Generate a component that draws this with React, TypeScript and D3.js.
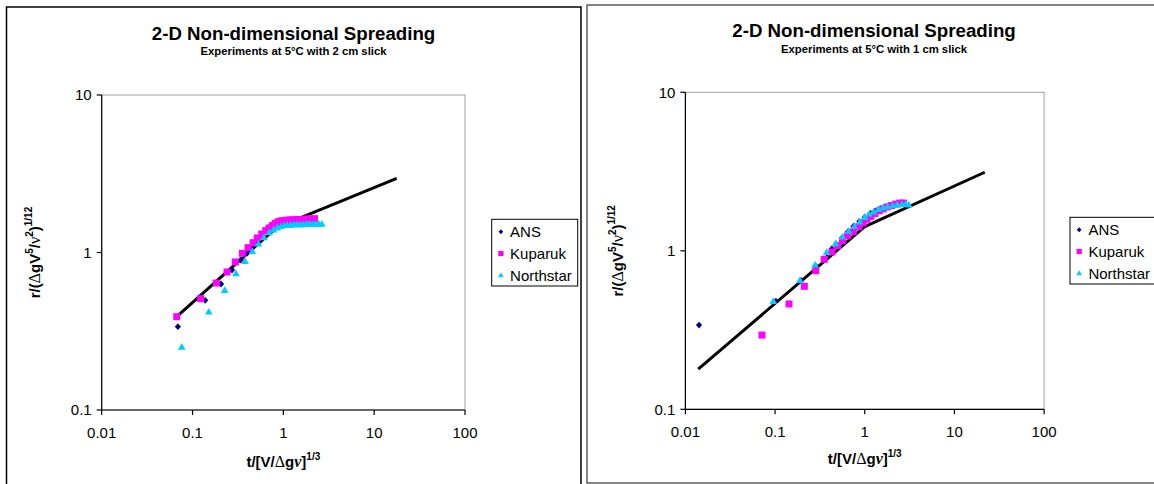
import React from "react";
import * as d3 from "d3";

const FONT = "'Liberation Sans', Arial, Helvetica, sans-serif";
const SERIF = "'Liberation Serif', 'Times New Roman', serif";

const seriesNames = ["ANS", "Kuparuk", "Northstar"];
const seriesColors = ["#000080", "#FF00FF", "#00CCFF"];
const seriesShapes = ["diamond", "square", "triangle"];

const xTickValues = [0.01, 0.1, 1, 10, 100];
const xTickLabels = ["0.01", "0.1", "1", "10", "100"];
const yTickValues = [0.1, 1, 10];
const yTickLabels = ["0.1", "1", "10"];

const chartTitle = "2-D Non-dimensional Spreading";
const leftSubtitle = "Experiments at 5°C with 2 cm slick";
const rightSubtitle = "Experiments at 5°C with 1 cm slick";

// ---- Left chart (2 cm slick) ----
const leftAnsX = [0.069, 0.138, 0.206, 0.272, 0.34, 0.40, 0.46, 0.52, 0.58, 0.65, 0.70, 0.75, 0.80, 0.85];
const leftAnsY = [0.338, 0.497, 0.631, 0.774, 0.896, 0.99, 1.08, 1.17, 1.27, 1.40, 1.45, 1.50, 1.53, 1.56];
const leftKupX = [0.067, 0.123, 0.183, 0.24, 0.296, 0.354, 0.409, 0.464, 0.517, 0.578, 0.64, 0.70, 0.76, 0.82, 0.88, 0.95, 1.02, 1.1, 1.18, 1.26, 1.35, 1.45, 1.55, 1.66, 1.78, 1.9, 2.05, 2.2];
const leftKupY = [0.391, 0.509, 0.64, 0.752, 0.871, 0.988, 1.073, 1.154, 1.236, 1.31, 1.376, 1.43, 1.48, 1.53, 1.57, 1.59, 1.6, 1.6, 1.61, 1.61, 1.61, 1.62, 1.62, 1.62, 1.63, 1.63, 1.63, 1.64];
const leftNorX = [0.076, 0.151, 0.226, 0.301, 0.379, 0.456, 0.531, 0.612, 0.70, 0.78, 0.86, 0.94, 1.02, 1.1, 1.2, 1.3, 1.4, 1.52, 1.64, 1.78, 1.92, 2.08, 2.25, 2.45, 2.65];
const leftNorY = [0.252, 0.421, 0.578, 0.738, 0.883, 1.022, 1.14, 1.248, 1.343, 1.40, 1.44, 1.47, 1.49, 1.5, 1.5, 1.51, 1.51, 1.51, 1.51, 1.52, 1.52, 1.52, 1.52, 1.52, 1.52];
const leftLineX = [0.068, 0.84, 17.7];
const leftLineY = [0.395, 1.44, 2.96];

// ---- Right chart (1 cm slick) ----
const rightAnsX = [0.0142, 0.102, 0.195, 0.285, 0.38, 0.43, 0.48, 0.56, 0.65, 0.75, 0.87, 1.0, 1.15, 1.3, 1.5, 1.7, 1.95, 2.2, 2.5];
const rightAnsY = [0.34, 0.482, 0.65, 0.80, 0.96, 1.03, 1.10, 1.21, 1.32, 1.43, 1.53, 1.63, 1.72, 1.78, 1.84, 1.89, 1.92, 1.95, 1.97];
const rightKupX = [0.0714, 0.143, 0.212, 0.284, 0.354, 0.431, 0.499, 0.565, 0.64, 0.745, 0.86, 0.96, 1.06, 1.17, 1.3, 1.45, 1.6, 1.78, 1.98, 2.2, 2.45, 2.7];
const rightKupY = [0.294, 0.462, 0.597, 0.749, 0.884, 0.983, 1.077, 1.158, 1.24, 1.32, 1.42, 1.5, 1.58, 1.65, 1.72, 1.79, 1.84, 1.89, 1.93, 1.97, 2.0, 2.0];
const rightNorX = [0.0955, 0.1895, 0.279, 0.376, 0.474, 0.565, 0.66, 0.764, 0.88, 1.0, 1.12, 1.26, 1.42, 1.6, 1.8, 2.05, 2.3, 2.6, 2.85, 3.1];
const rightNorY = [0.482, 0.654, 0.817, 0.983, 1.115, 1.227, 1.334, 1.43, 1.53, 1.63, 1.71, 1.77, 1.83, 1.88, 1.91, 1.94, 1.96, 1.97, 1.97, 1.96];
const rightLineX = [0.0139, 1.0, 21.8];
const rightLineY = [0.179, 1.42, 3.13];

const zip = (xs: number[], ys: number[]) => xs.map((v, i) => [v, ys[i]] as [number, number]);

function markerPath(shape: string, cx: number, cy: number, s: number) {
  if (shape === "diamond") {
    const w = 3.1 * s, h = 3.4 * s;
    return `M${cx},${cy - h}L${cx + w},${cy}L${cx},${cy + h}L${cx - w},${cy}Z`;
  }
  if (shape === "square") {
    const h = 3.5 * s;
    return `M${cx - h},${cy - h}H${cx + h}V${cy + h}H${cx - h}Z`;
  }
  const w = 3.8 * s;
  return `M${cx},${cy - 3.8 * s}L${cx + w},${cy + 2.9 * s}L${cx - w},${cy + 2.9 * s}Z`;
}

type Cfg = {
  plot: { x0: number; x1: number; y0: number; y1: number };
  frame: { x: number; y: number; w: number; h: number; stroke: string; sw: number };
  titleX: number; titleY: number; subY: number; subtitle: string;
  yLabelX: number; xLabelY: number;
  legend: { x: number; y: number; w: number; h: number };
  series: [number, number][][];
  line: [number, number][];
};

function Chart({ cfg }: { cfg: Cfg }) {
  const { plot } = cfg;
  const x = d3.scaleLog().domain([0.01, 100]).range([plot.x0, plot.x1]);
  const y = d3.scaleLog().domain([0.1, 10]).range([plot.y1, plot.y0]);
  const lineGen = d3.line<[number, number]>().x((d) => x(d[0])).y((d) => y(d[1]));
  const cxPlot = (plot.x0 + plot.x1) / 2;
  const cyPlot = (plot.y0 + plot.y1) / 2;
  const lg = cfg.legend;
  const rowOff = [12.5, 34.2, 55.8];

  return (
    <g>
      <rect x={cfg.frame.x} y={cfg.frame.y} width={cfg.frame.w} height={cfg.frame.h} fill="#fff" stroke={cfg.frame.stroke} strokeWidth={cfg.frame.sw} />
      <text x={cfg.titleX} y={cfg.titleY} textAnchor="middle" fontFamily={FONT} fontWeight="bold" fontSize={18.7}>{chartTitle}</text>
      <text x={cfg.titleX} y={cfg.subY} textAnchor="middle" fontFamily={FONT} fontWeight="bold" fontSize={11.3}>{cfg.subtitle}</text>
      {/* plot area border */}
      <rect x={plot.x0} y={plot.y0} width={plot.x1 - plot.x0} height={plot.y1 - plot.y0} fill="#fff" stroke="#a0a0a0" strokeWidth={1} />
      {/* axes */}
      <line x1={plot.x0} x2={plot.x0} y1={plot.y0} y2={plot.y1} stroke="#000" strokeWidth={1.2} />
      <line x1={plot.x0} x2={plot.x1} y1={plot.y1} y2={plot.y1} stroke="#000" strokeWidth={1.2} />
      {xTickValues.map((v, i) => (
        <g key={"xt" + i}>
          <line x1={x(v)} x2={x(v)} y1={plot.y1} y2={plot.y1 + 5} stroke="#000" strokeWidth={1.2} />
          <text x={x(v)} y={plot.y1 + 28} textAnchor="middle" fontFamily={FONT} fontSize={15}>{xTickLabels[i]}</text>
        </g>
      ))}
      {yTickValues.map((v, i) => (
        <g key={"yt" + i}>
          <line x1={plot.x0 - 5} x2={plot.x0} y1={y(v)} y2={y(v)} stroke="#000" strokeWidth={1.2} />
          <text x={plot.x0 - 10} y={y(v) + 5.3} textAnchor="end" fontFamily={FONT} fontSize={15}>{yTickLabels[i]}</text>
        </g>
      ))}
      {/* fitted line */}
      <path d={lineGen(cfg.line) || ""} fill="none" stroke="#000" strokeWidth={3} strokeLinejoin="round" />
      {/* series markers */}
      {cfg.series.map((pts, si) => (
        <g key={"s" + si} fill={seriesColors[si]}>
          {pts.map((p, i) => (
            <path key={i} d={markerPath(seriesShapes[si], x(p[0]), y(p[1]), 1)} />
          ))}
        </g>
      ))}
      {/* axis titles */}
      <text x={cxPlot} y={cfg.xLabelY} textAnchor="middle" fontFamily={FONT} fontWeight="bold" fontSize={15}>
        <tspan>t/[V/</tspan>
        <tspan fontFamily={SERIF} fontWeight="normal" fontSize={16}>Δ</tspan>
        <tspan>g</tspan>
        <tspan fontFamily={SERIF} fontStyle="italic" fontSize={16}>ν</tspan>
        <tspan>]</tspan>
        <tspan fontSize={10} dy={-7}>1/3</tspan>
      </text>
      <text transform={`translate(${cfg.yLabelX},${cyPlot}) rotate(-90)`} textAnchor="middle" fontFamily={FONT} fontWeight="bold" fontSize={15}>
        <tspan>r/(</tspan>
        <tspan fontFamily={SERIF} fontWeight="normal" fontSize={16}>Δ</tspan>
        <tspan>gV</tspan>
        <tspan fontSize={10} dy={-7}>5</tspan>
        <tspan dy={7}>/</tspan>
        <tspan fontFamily={SERIF} fontWeight="normal" fontSize={16}>ν</tspan>
        <tspan fontSize={10} dy={-7}>2</tspan>
        <tspan dy={7}>)</tspan>
        <tspan fontSize={10} dy={-8}>1/12</tspan>
      </text>
      {/* legend */}
      <rect x={lg.x} y={lg.y} width={lg.w} height={lg.h} fill="#fff" stroke="#000" strokeWidth={1} />
      {seriesNames.map((n, i) => (
        <g key={"lg" + i}>
          <path d={markerPath(seriesShapes[i], lg.x + 9.2, lg.y + rowOff[i], 0.75)} fill={seriesColors[i]} />
          <text x={lg.x + 18.4} y={lg.y + rowOff[i] + 5.4} fontFamily={FONT} fontSize={15}>{n}</text>
        </g>
      ))}
    </g>
  );
}

const leftCfg: Cfg = {
  plot: { x0: 101.7, x1: 465, y0: 95, y1: 410 },
  frame: { x: 6.5, y: 7, w: 574.5, h: 490, stroke: "#000", sw: 1.5 },
  titleX: 293.5, titleY: 39.5, subY: 54.8, subtitle: leftSubtitle,
  yLabelX: 39.5, xLabelY: 466.5,
  legend: { x: 491.7, y: 219.3, w: 86, h: 66.7 },
  series: [zip(leftAnsX, leftAnsY), zip(leftKupX, leftKupY), zip(leftNorX, leftNorY)],
  line: zip(leftLineX, leftLineY),
};

const rightCfg: Cfg = {
  plot: { x0: 685.4, x1: 1044.1, y0: 92.3, y1: 409.3 },
  frame: { x: 587, y: 5, w: 572, h: 478, stroke: "#333", sw: 1.2 },
  titleX: 874, titleY: 37, subY: 52.5, subtitle: rightSubtitle,
  yLabelX: 622.5, xLabelY: 463.5,
  legend: { x: 1070, y: 217.3, w: 86, h: 66.7 },
  series: [zip(rightAnsX, rightAnsY), zip(rightKupX, rightKupY), zip(rightNorX, rightNorY)],
  line: zip(rightLineX, rightLineY),
};

export default function App() {
  return (
    <svg width={1154} height={484} style={{ position: "absolute", left: 0, top: 0, background: "#fff" }}>
      <rect x={0} y={0} width={1154} height={484} fill="#fff" />
      <Chart cfg={leftCfg} />
      <Chart cfg={rightCfg} />
    </svg>
  );
}
